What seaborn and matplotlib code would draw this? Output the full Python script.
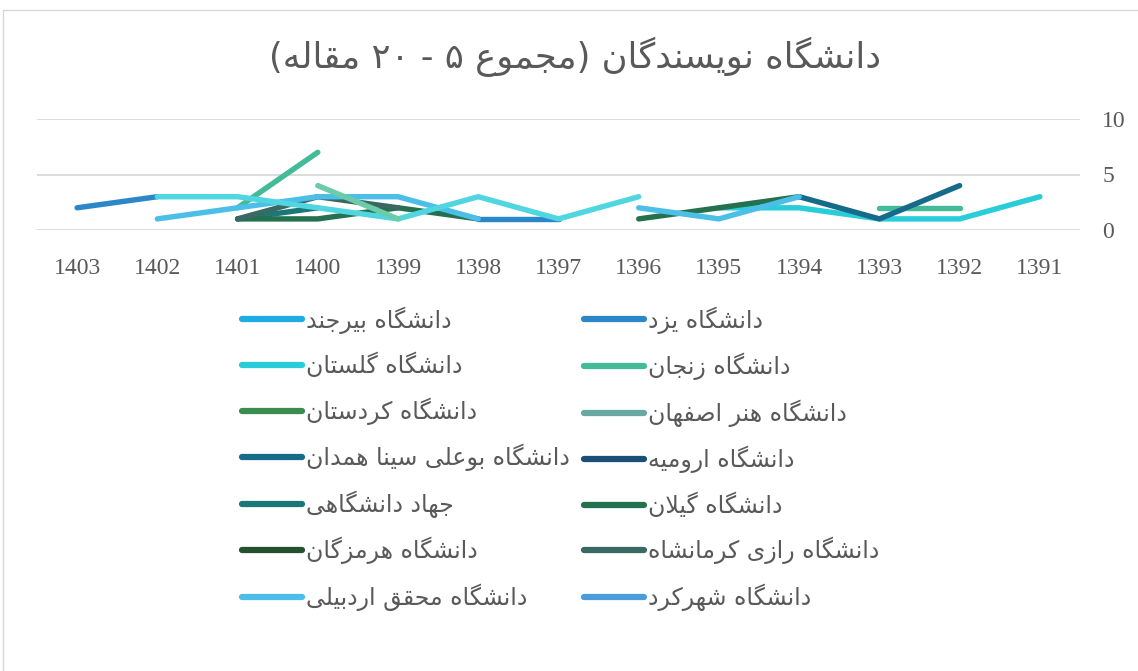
import re
import numpy as np
import pandas as pd
import seaborn as sns
import matplotlib.pyplot as plt
from matplotlib.lines import Line2D
from matplotlib.patches import Rectangle

nan = np.nan

# سال‌ها (محور افقی از راست به چپ)
years = [1403, 1402, 1401, 1400, 1399, 1398, 1397, 1396, 1395, 1394, 1393, 1392, 1391]

yazd      = [2, 3, nan, nan, nan, 1, 1, nan, nan, nan, nan, nan, nan]
birjand   = [nan] * 13
golestan  = [nan, nan, nan, nan, nan, nan, nan, nan, 2, 2, 1, 1, 3]
zanjan    = [nan, nan, 2, 7, nan, nan, nan, nan, nan, nan, 2, 2, nan]
kordestan = [nan] * 13
honar     = [nan] * 13
bualisina = [nan, nan, nan, nan, nan, nan, nan, nan, nan, 3, 1, 4, nan]
urmia     = [nan] * 13
jahad     = [nan, nan, 1, 2, nan, nan, nan, nan, nan, nan, nan, nan, nan]
guilan    = [nan, nan, 1, 1, 2, 1, nan, 1, 2, 3, nan, nan, nan]
hormozgan = [nan] * 13
razi      = [nan, nan, 1, 3, 2, nan, nan, nan, nan, nan, nan, nan, nan]
shahrekord = [nan] * 13
ardabili  = [nan, 1, 2, 3, 3, 1, nan, 2, 1, 3, nan, nan, nan]
# two more series drawn in the plot but cut off from the legend
extra_cyan = [nan, 3, 3, 2, 1, 3, 1, 3, nan, nan, nan, nan, nan]
extra_mint = [nan, nan, nan, 4, 1, nan, nan, nan, nan, nan, nan, nan, nan]

series = {
    "دانشگاه یزد": yazd,
    "دانشگاه بیرجند": birjand,
    "دانشگاه گلستان": golestan,
    "دانشگاه زنجان": zanjan,
    "دانشگاه کردستان": kordestan,
    "دانشگاه هنر اصفهان": honar,
    "دانشگاه بوعلی سینا همدان": bualisina,
    "دانشگاه ارومیه": urmia,
    "جهاد دانشگاهی": jahad,
    "دانشگاه گیلان": guilan,
    "دانشگاه هرمزگان": hormozgan,
    "دانشگاه رازی کرمانشاه": razi,
    "دانشگاه شهرکرد": shahrekord,
    "دانشگاه محقق اردبیلی": ardabili,
    "_extra1": extra_cyan,
    "_extra2": extra_mint,
}

colors = {
    "دانشگاه یزد": "#2C87C9",
    "دانشگاه بیرجند": "#1FACE2",
    "دانشگاه گلستان": "#29CCD9",
    "دانشگاه زنجان": "#44BB98",
    "دانشگاه کردستان": "#3B8C4F",
    "دانشگاه هنر اصفهان": "#67A8A2",
    "دانشگاه بوعلی سینا همدان": "#176B8A",
    "دانشگاه ارومیه": "#1A4F7A",
    "جهاد دانشگاهی": "#1A7878",
    "دانشگاه گیلان": "#24714F",
    "دانشگاه هرمزگان": "#24502F",
    "دانشگاه رازی کرمانشاه": "#3A6862",
    "دانشگاه شهرکرد": "#4A9CDB",
    "دانشگاه محقق اردبیلی": "#4BBFE8",
    "_extra1": "#50D6E0",
    "_extra2": "#6CCBA8",
}

# ترتیب راهنما: ستون چپ، سپس ستون راست
legend_left = ["دانشگاه بیرجند", "دانشگاه گلستان", "دانشگاه کردستان",
               "دانشگاه بوعلی سینا همدان", "جهاد دانشگاهی", "دانشگاه هرمزگان",
               "دانشگاه محقق اردبیلی"]
legend_right = ["دانشگاه یزد", "دانشگاه زنجان", "دانشگاه هنر اصفهان",
                "دانشگاه ارومیه", "دانشگاه گیلان", "دانشگاه رازی کرمانشاه",
                "دانشگاه شهرکرد"]

title = "دانشگاه نویسندگان (مجموع ۵ - ۲۰ مقاله)"

# --- شکل‌دهی حروف فارسی (matplotlib خودش این کار را نمی‌کند) ---
FORMS = {
    'ء': (0xFE80, None, None, None),
    'آ': (0xFE81, 0xFE82, None, None), 'أ': (0xFE83, 0xFE84, None, None),
    'ؤ': (0xFE85, 0xFE86, None, None), 'إ': (0xFE87, 0xFE88, None, None),
    'ئ': (0xFE89, 0xFE8A, 0xFE8B, 0xFE8C), 'ا': (0xFE8D, 0xFE8E, None, None),
    'ب': (0xFE8F, 0xFE90, 0xFE91, 0xFE92), 'ة': (0xFE93, 0xFE94, None, None),
    'ت': (0xFE95, 0xFE96, 0xFE97, 0xFE98), 'ث': (0xFE99, 0xFE9A, 0xFE9B, 0xFE9C),
    'ج': (0xFE9D, 0xFE9E, 0xFE9F, 0xFEA0), 'ح': (0xFEA1, 0xFEA2, 0xFEA3, 0xFEA4),
    'خ': (0xFEA5, 0xFEA6, 0xFEA7, 0xFEA8), 'د': (0xFEA9, 0xFEAA, None, None),
    'ذ': (0xFEAB, 0xFEAC, None, None), 'ر': (0xFEAD, 0xFEAE, None, None),
    'ز': (0xFEAF, 0xFEB0, None, None), 'س': (0xFEB1, 0xFEB2, 0xFEB3, 0xFEB4),
    'ش': (0xFEB5, 0xFEB6, 0xFEB7, 0xFEB8), 'ص': (0xFEB9, 0xFEBA, 0xFEBB, 0xFEBC),
    'ض': (0xFEBD, 0xFEBE, 0xFEBF, 0xFEC0), 'ط': (0xFEC1, 0xFEC2, 0xFEC3, 0xFEC4),
    'ظ': (0xFEC5, 0xFEC6, 0xFEC7, 0xFEC8), 'ع': (0xFEC9, 0xFECA, 0xFECB, 0xFECC),
    'غ': (0xFECD, 0xFECE, 0xFECF, 0xFED0), 'ف': (0xFED1, 0xFED2, 0xFED3, 0xFED4),
    'ق': (0xFED5, 0xFED6, 0xFED7, 0xFED8), 'ك': (0xFED9, 0xFEDA, 0xFEDB, 0xFEDC),
    'ل': (0xFEDD, 0xFEDE, 0xFEDF, 0xFEE0), 'م': (0xFEE1, 0xFEE2, 0xFEE3, 0xFEE4),
    'ن': (0xFEE5, 0xFEE6, 0xFEE7, 0xFEE8), 'ه': (0xFEE9, 0xFEEA, 0xFEEB, 0xFEEC),
    'و': (0xFEED, 0xFEEE, None, None), 'ى': (0xFEEF, 0xFEF0, None, None),
    'ي': (0xFEF1, 0xFEF2, 0xFEF3, 0xFEF4),
    'پ': (0xFB56, 0xFB57, 0xFB58, 0xFB59), 'چ': (0xFB7A, 0xFB7B, 0xFB7C, 0xFB7D),
    'ژ': (0xFB8A, 0xFB8B, None, None), 'ک': (0xFB8E, 0xFB8F, 0xFB90, 0xFB91),
    'گ': (0xFB92, 0xFB93, 0xFB94, 0xFB95), 'ی': (0xFBFC, 0xFBFD, 0xFBFE, 0xFBFF),
}
LAM_ALEF = {'ا': (0xFEFB, 0xFEFC), 'آ': (0xFEF5, 0xFEF6),
            'أ': (0xFEF7, 0xFEF8), 'إ': (0xFEF9, 0xFEFA)}


def fa(text):
    def joins_left(c):
        return c in FORMS and FORMS[c][2] is not None
    out = []
    i = 0
    while i < len(text):
        c = text[i]
        if c not in FORMS:
            out.append(c)
            i += 1
            continue
        con_prev = i > 0 and joins_left(text[i - 1])
        if c == 'ل' and i + 1 < len(text) and text[i + 1] in LAM_ALEF:
            iso, fin = LAM_ALEF[text[i + 1]]
            out.append(chr(fin if con_prev else iso))
            i += 2
            continue
        con_next = joins_left(c) and i + 1 < len(text) and text[i + 1] in FORMS
        iso, fin, ini, med = FORMS[c]
        if con_prev and con_next:
            g = med
        elif con_prev:
            g = fin
        elif con_next:
            g = ini
        else:
            g = iso
        out.append(chr(g))
        i += 1
    vis = ''.join(out)[::-1]
    vis = vis.translate(str.maketrans('()', ')('))
    vis = re.sub(r'[0-9۰-۹]+', lambda m: m.group(0)[::-1], vis)
    return vis


# جدول بلند؛ هر تکه‌ی پیوسته یک unit جدا تا خط از روی جای خالی رد نشود
rows = []
seg = 0
for name, vals in series.items():
    prev_nan = True
    for y, v in zip(years, vals):
        if np.isnan(v):
            prev_nan = True
            continue
        if prev_nan:
            seg += 1
        prev_nan = False
        rows.append({"uni": name, "year": y, "count": v, "seg": seg})
df = pd.DataFrame(rows)

sns.set_style("white")
fig = plt.figure(figsize=(11.38, 6.71), dpi=100)
ax = fig.add_axes([37 / 1138, 1 - 230 / 671, (1080 - 37) / 1138, 111 / 671])

sns.lineplot(data=df, x="year", y="count", hue="uni", units="seg",
             estimator=None, hue_order=list(series.keys()), palette=colors,
             linewidth=3.9, solid_capstyle="round", solid_joinstyle="round",
             legend=False, ax=ax)

ax.set_xlim(1403.5, 1390.5)
ax.set_ylim(0, 10)
ax.set_xticks(years)
ax.set_xticklabels([str(y) for y in years])
ax.set_yticks([0, 5, 10])
ax.yaxis.tick_right()
ax.grid(axis="y", color="#D9D9D9", linewidth=1.3)
ax.set_axisbelow(True)
for s in ax.spines.values():
    s.set_visible(False)
ax.tick_params(axis="both", length=0, colors="#595959", labelsize=17)
ax.tick_params(axis="x", pad=20)
ax.tick_params(axis="y", pad=16)
for lab in ax.get_xticklabels() + ax.get_yticklabels():
    lab.set_fontfamily("Liberation Serif")
ax.set_xlabel("")
ax.set_ylabel("")

fig.text(575 / 1138, 1 - 57 / 671, fa(title), ha="center", va="center",
         fontsize=25.5, color="#595959", family="DejaVu Sans")

handles = []
labels = []
for name in legend_left + legend_right:
    handles.append(Line2D([0], [0], color=colors[name], linewidth=4.5,
                          solid_capstyle="round"))
    labels.append(fa(name))
fig.legend(handles, labels, ncol=2, loc="upper left",
           bbox_to_anchor=(221 / 1138, 1 - 285 / 671), frameon=False,
           prop={"family": "DejaVu Sans", "size": 17}, labelcolor="#595959",
           handlelength=2.55, handletextpad=0.15, labelspacing=0.81,
           columnspacing=0.6)

fig.patches.append(Rectangle((3 / 1138, -0.1), 1.2, 1.1 - 10 / 671,
                             transform=fig.transFigure, fill=False,
                             edgecolor="#D9D9D9", linewidth=1))

fig.savefig("out.png", dpi=100)
